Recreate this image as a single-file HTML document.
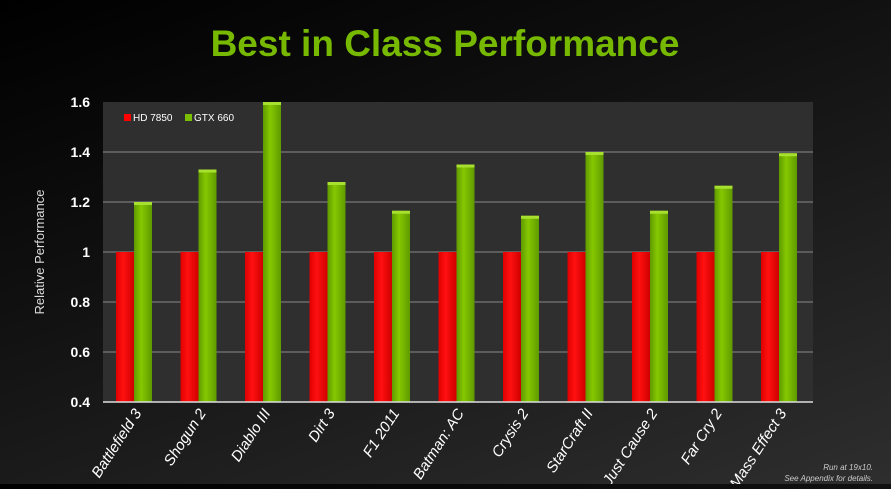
<!DOCTYPE html>
<html><head><style>
body{margin:0;width:891px;height:484px;overflow:hidden;background:linear-gradient(160deg,#000 0%,#111 40%,#2e2e2e 100%);font-family:"Liberation Sans",sans-serif;}
</style></head><body>
<svg width="891" height="484" xmlns="http://www.w3.org/2000/svg">
<defs>
<linearGradient id="g" x1="0" x2="1"><stop offset="0" stop-color="#5f9a00"/><stop offset="0.4" stop-color="#86c800"/><stop offset="1" stop-color="#5f9a00"/></linearGradient>
<linearGradient id="r" x1="0" x2="1"><stop offset="0" stop-color="#e00000"/><stop offset="0.4" stop-color="#ff1010"/><stop offset="1" stop-color="#d00000"/></linearGradient>
</defs>
<text x="445" y="56" text-anchor="middle" font-size="37" font-weight="bold" fill="#76b900">Best in Class Performance</text>
<rect x="103" y="102" width="710" height="300" fill="#2f2f2f"/>
<g stroke="#8a8a8a" stroke-width="1">
<line x1="103" x2="813" y1="152" y2="152"/><line x1="103" x2="813" y1="202" y2="202"/><line x1="103" x2="813" y1="252" y2="252"/><line x1="103" x2="813" y1="302" y2="302"/><line x1="103" x2="813" y1="352" y2="352"/>
</g>
<g font-size="14" font-weight="bold" fill="#fff" text-anchor="end">
<text x="90" y="107">1.6</text><text x="90" y="157">1.4</text><text x="90" y="207">1.2</text><text x="90" y="257">1</text><text x="90" y="307">0.8</text><text x="90" y="357">0.6</text><text x="90" y="407">0.4</text>
</g>
<text transform="translate(44,252) rotate(-90)" text-anchor="middle" font-size="13" fill="#ddd">Relative Performance</text>
<rect x="124" y="114" width="7" height="7" fill="#f00"/><text x="133" y="121" font-size="10" fill="#fff">HD 7850</text>
<rect x="185" y="114" width="7" height="7" fill="#7ac000"/><text x="194" y="121" font-size="10" fill="#fff">GTX 660</text>
<g id="bars"></g>
<line x1="103" x2="813" y1="402" y2="402" stroke="#ddd" stroke-width="1.5"/>
<g id="labels" font-size="15" font-style="italic" fill="#fff" text-anchor="end"></g>
<text x="873" y="470" text-anchor="end" font-size="8" font-style="italic" fill="#ccc">Run at 19x10.</text>
<text x="873" y="481" text-anchor="end" font-size="8" font-style="italic" fill="#ccc">See Appendix for details.</text>
</svg>
<script>
var v=[1.2,1.33,1.6,1.28,1.165,1.35,1.145,1.4,1.165,1.265,1.395];
var n=["Battlefield 3","Shogun 2","Diablo III","Dirt 3","F1 2011","Batman: AC","Crysis 2","StarCraft II","Just Cause 2","Far Cry 2","Mass Effect 3"];
var b="",l="";
function y(t){return 402-(t-0.4)*250;}
for(var i=0;i<11;i++){var x=116+i*64.5;
b+='<rect x="'+x+'" y="252" width="18" height="150" fill="url(#r)"/>';
b+='<rect x="'+(x+18)+'" y="'+y(v[i])+'" width="18" height="'+(402-y(v[i]))+'" fill="url(#g)"/>';
b+='<rect x="'+(x+18)+'" y="'+y(v[i])+'" width="18" height="3" fill="#a8e030"/>';
l+='<text transform="translate('+(x+26)+',413) rotate(-57)">'+n[i]+'</text>';}
document.getElementById("bars").innerHTML=b;document.getElementById("labels").innerHTML=l;
</script>
</body></html>
